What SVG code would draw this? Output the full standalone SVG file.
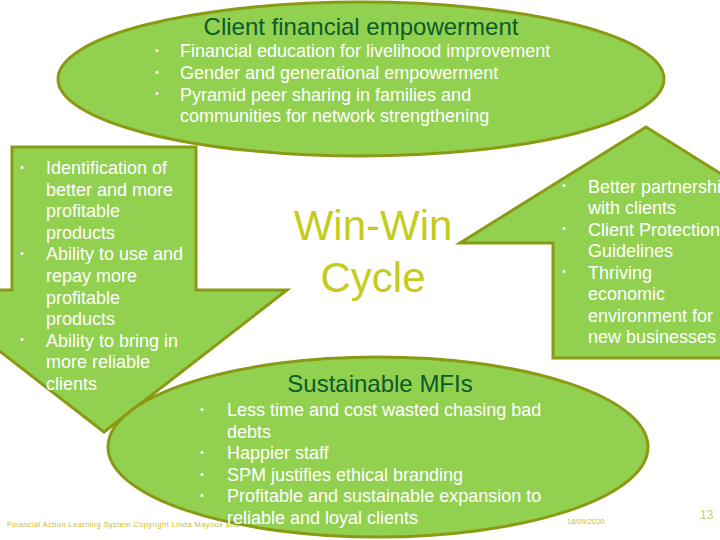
<svg xmlns="http://www.w3.org/2000/svg" width="720" height="540" viewBox="0 0 720 540">
<style>
.shape{fill:#92D050;stroke:#8A9A14;stroke-width:3;stroke-linejoin:miter}
text{font-family:"Liberation Sans",Arial,sans-serif}
.b{font-size:18px;fill:#FFFFFF}
.dot{font-size:11px;fill:#FFFFFF}
.title{font-size:24px;fill:#0B5A2A}
.ww{font-size:42px;fill:#C6CC1C;text-anchor:middle}
.foot{font-size:7.5px;fill:#C9BE2E}
</style>
<rect width="720" height="540" fill="#FFFFFF"/>
<text class="foot" x="7" y="527" font-size="8" textLength="232" lengthAdjust="spacing">Financial Action Learning System   Copyright Linda Mayoux and</text>
<g id="connectors">
<g id="left-arrow">
<polygon class="shape" points="12,147 196,147 196,290 287,290 104,432 -79,290 12,290"/>
<text class="dot" x="20" y="171">•</text>
<text class="dot" x="20" y="257">•</text>
<text class="dot" x="20" y="343">•</text>
<text class="b" x="46" y="174">Identification of</text>
<text class="b" x="46" y="195.6">better and more</text>
<text class="b" x="46" y="217.2">profitable</text>
<text class="b" x="46" y="238.8">products</text>
<text class="b" x="46" y="260.4">Ability to use and</text>
<text class="b" x="46" y="282">repay more</text>
<text class="b" x="46" y="303.6">profitable</text>
<text class="b" x="46" y="325.2">products</text>
<text class="b" x="46" y="346.8">Ability to bring in</text>
<text class="b" x="46" y="368.4">more reliable</text>
<text class="b" x="46" y="390">clients</text>
</g>
<g id="right-arrow">
<polygon class="shape" points="646,127 832,243 739,243 739,358 553,358 553,243 460,243"/>
<text class="dot" x="562" y="189">•</text>
<text class="dot" x="562" y="232">•</text>
<text class="dot" x="562" y="275">•</text>
<text class="b" x="588" y="192.5">Better partnershi</text>
<text class="b" x="588" y="214">with clients</text>
<text class="b" x="588" y="235.5">Client Protection</text>
<text class="b" x="588" y="257">Guidelines</text>
<text class="b" x="588" y="278.5">Thriving</text>
<text class="b" x="588" y="300">economic</text>
<text class="b" x="588" y="321.5">environment for</text>
<text class="b" x="588" y="343">new businesses</text>
</g>
</g>
<g id="client-empowerment">
<ellipse class="shape" cx="361" cy="79" rx="303" ry="77"/>
<text class="title" x="361" y="35" text-anchor="middle">Client financial empowerment</text>
<text class="dot" x="155" y="54">•</text>
<text class="dot" x="155" y="76">•</text>
<text class="dot" x="155" y="97">•</text>
<text class="b" x="180" y="57">Financial education for livelihood improvement</text>
<text class="b" x="180" y="79">Gender and generational empowerment</text>
<text class="b" x="180" y="100.5">Pyramid peer sharing in families and</text>
<text class="b" x="180" y="122">communities for network strengthening</text>
</g>
<g id="sustainable-mfis">
<ellipse class="shape" cx="378" cy="447" rx="270" ry="90"/>
<text class="title" x="380" y="392" text-anchor="middle">Sustainable MFIs</text>
<text class="dot" x="200" y="413">•</text>
<text class="dot" x="200" y="456">•</text>
<text class="dot" x="200" y="477.5">•</text>
<text class="dot" x="200" y="499">•</text>
<text class="b" x="227" y="416">Less time and cost wasted chasing bad</text>
<text class="b" x="227" y="437.5">debts</text>
<text class="b" x="227" y="459">Happier staff</text>
<text class="b" x="227" y="480.5">SPM justifies ethical branding</text>
<text class="b" x="227" y="502">Profitable and sustainable expansion to</text>
<text class="b" x="227" y="523.5">reliable and loyal  clients</text>
</g>
<g id="win-win">
<text class="ww" x="373" y="240">Win-Win</text>
<text class="ww" x="373" y="292">Cycle</text>
</g>
<text class="foot" x="567" y="524" font-size="8">18/09/2020</text>
<text x="700" y="519" font-size="12" font-family="Liberation Sans, Arial, sans-serif" fill="#CCCC66">13</text>
</svg>
